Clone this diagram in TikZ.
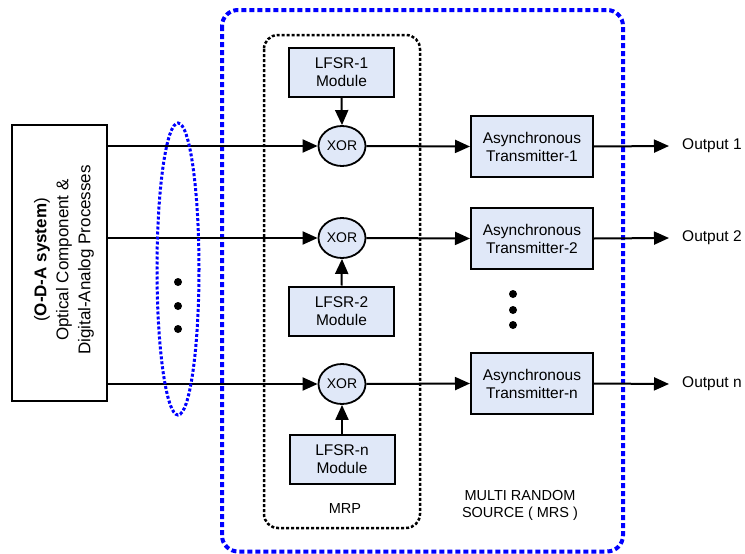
\documentclass[tikz,border=0pt]{standalone}
\usepackage{fontspec}
\setmainfont{Liberation Sans}
\usetikzlibrary{arrows.meta,shapes.geometric}
\definecolor{boxfill}{RGB}{224,232,248}
\definecolor{mrsblue}{RGB}{0,0,255}
\begin{document}
\begin{tikzpicture}[x=1pt,y=-1pt,
  blk/.style={draw,line width=2pt,fill=boxfill,minimum width=105pt,minimum height=49pt,align=center,inner sep=0pt,font=\fontsize{15.5}{18}\selectfont},
  trans/.style={blk,minimum width=122pt,minimum height=61pt},
  xorn/.style={draw,ellipse,line width=1.8pt,fill=boxfill,minimum width=47pt,minimum height=40pt,inner sep=0pt,font=\fontsize{14}{15}\selectfont},
  arr/.style={line width=2pt,-{Triangle[length=15pt,width=13pt]}},
  lbl/.style={font=\fontsize{15.5}{17}\selectfont,anchor=west,inner xsep=13pt,inner ysep=0pt},
  bluedash/.style={mrsblue,line width=4pt,dash pattern=on 5pt off 3pt},
  blackdot/.style={black,line width=2.5pt,dash pattern=on 3pt off 2pt}
]
\useasboundingbox (0,0) rectangle (745,554);

% frames
\draw[bluedash,rounded corners=16pt] (222,10) rectangle (623,551.5);
\draw[blackdot,rounded corners=14pt] (264,35) rectangle (420,528);

% left box
\node[draw,line width=2pt,fill=white,minimum width=95pt,minimum height=276pt,inner sep=0pt] (oda) at (59.5,263) {};
\node[rotate=90,align=center,font=\fontsize{17}{22}\selectfont] (odatext) at (64,260) {(\textbf{O-D-A system})\\Optical Component \&\\Digital-Analog Processes};

% XORs
\node[xorn] (x1) at (342,146) {XOR};
\node[xorn] (x2) at (342,238) {XOR};
\node[xorn] (xn) at (342,384) {XOR};

% LFSRs
\node[blk] (l1) at (341.5,72.5) {LFSR-1\\Module};
\node[blk] (l2) at (341.5,311) {LFSR-2\\Module};
\node[blk] (ln) at (342,459) {LFSR-n\\Module};

% transmitters
\node[trans] (t1) at (532,146.5) {Asynchronous\\Transmitter-1};
\node[trans] (t2) at (532,238.5) {Asynchronous\\Transmitter-2};
\node[trans] (tn) at (532,383.5) {Asynchronous\\Transmitter-n};

% outputs
\node[lbl] (o1) at (669,146) {Output 1};
\node[lbl] (o2) at (669,238) {Output 2};
\node[lbl] (on) at (669,384) {Output n};

% connectors
\draw[arr] (oda.east |- x1) -- (x1.west);
\draw[arr] (oda.east |- x2) -- (x2.west);
\draw[arr] (oda.east |- xn) -- (xn.west);
\draw[arr] (l1.south) -- (x1.north);
\draw[arr] (l2.north) -- (x2.south);
\draw[arr] (ln.north) -- (xn.south);
\draw[arr] (x1.east) -- (t1.west);
\draw[arr] (x2.east) -- (t2.west);
\draw[arr] (xn.east) -- (tn.west);
\draw[arr] (t1.east) -- (o1.west);
\draw[arr] (t2.east) -- (o2.west);
\draw[arr] (tn.east) -- (on.west);

% ellipse grouping inputs
\draw[mrsblue,line width=3pt,dash pattern=on 3pt off 2pt] (178,269) ellipse [x radius=21, y radius=146];

% dots
\foreach \yy in {282,306,329} \fill (178,\yy) circle [radius=4];
\foreach \yy in {294,310,325} \fill (513,\yy) circle [radius=4];

% labels
\node[font=\fontsize{14.5}{17}\selectfont] (mrp) at (345,509) {MRP};
\node[align=center,font=\fontsize{14.5}{17}\selectfont] (mrs) at (520,505) {MULTI RANDOM\\SOURCE ( MRS )};
\end{tikzpicture}
\end{document}
